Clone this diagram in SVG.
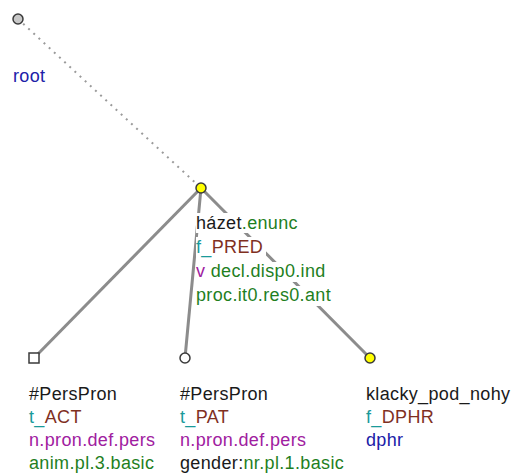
<svg xmlns="http://www.w3.org/2000/svg" width="513" height="473" viewBox="0 0 513 473">
<style>
text{font-family:"Liberation Sans",Arial,sans-serif;font-size:18px;letter-spacing:0.35px}
.k{fill:#1a1a1a}.te{fill:#1a9a9a}.br{fill:#80301f}.pu{fill:#a020a0}.gr{fill:#1f7f1f}.bl{fill:#2020a8}
.edge{stroke:#8c8c8c;stroke-width:3;fill:none}
.dot{stroke:#9a9a9a;stroke-width:2;stroke-dasharray:2 5;fill:none}
.nd{stroke:#3a3a3a;stroke-width:1.5}
.bg{fill:#fff}
</style>
<rect width="513" height="473" fill="#fff"/>
<g id="connectors">
<line class="dot" x1="18" y1="19" x2="201" y2="188"/>
<line class="edge" x1="201" y1="188" x2="34" y2="358"/>
<line class="edge" x1="201" y1="188" x2="185" y2="358"/>
<line class="edge" x1="201" y1="188" x2="370" y2="358"/>
</g>
<g id="root">
<circle class="nd" cx="18" cy="19" r="5" fill="#c8c8c8"/>
<text x="13" y="82" class="bl">root</text>
</g>
<g id="hazet">
<rect class="bg" x="196" y="213" width="108" height="20"/>
<rect class="bg" x="196" y="237" width="70" height="20"/>
<rect class="bg" x="196" y="262" width="164" height="20"/>
<rect class="bg" x="196" y="286" width="170" height="20"/>
<circle class="nd" cx="201" cy="188" r="5" fill="#ffff00"/>
<text x="196" y="229"><tspan class="k">házet</tspan><tspan class="gr">.enunc</tspan></text>
<text x="196" y="253"><tspan class="te">f_</tspan><tspan class="br">PRED</tspan></text>
<text x="196" y="277"><tspan class="pu">v</tspan><tspan class="gr"> decl.disp0.ind</tspan></text>
<text x="196" y="301" class="gr">proc.it0.res0.ant</text>
</g>
<g id="act">
<rect class="nd" x="29" y="353" width="10" height="10" fill="#fff"/>
<text x="29" y="400" class="k">#PersPron</text>
<text x="29" y="423"><tspan class="te">t_</tspan><tspan class="br">ACT</tspan></text>
<text x="29" y="446" class="pu">n.pron.def.pers</text>
<text x="29" y="469" class="gr">anim.pl.3.basic</text>
</g>
<g id="pat">
<circle class="nd" cx="185" cy="358" r="5" fill="#fff"/>
<text x="180" y="400" class="k">#PersPron</text>
<text x="180" y="423"><tspan class="te">t_</tspan><tspan class="br">PAT</tspan></text>
<text x="180" y="446" class="pu">n.pron.def.pers</text>
<text x="180" y="469"><tspan class="k">gender:</tspan><tspan class="gr">nr.pl.1.basic</tspan></text>
</g>
<g id="klacky">
<circle class="nd" cx="370" cy="358" r="5" fill="#ffff00"/>
<text x="366" y="400" class="k">klacky_pod_nohy</text>
<text x="366" y="423"><tspan class="te">f_</tspan><tspan class="br">DPHR</tspan></text>
<text x="366" y="446" class="bl">dphr</text>
</g>
</svg>
